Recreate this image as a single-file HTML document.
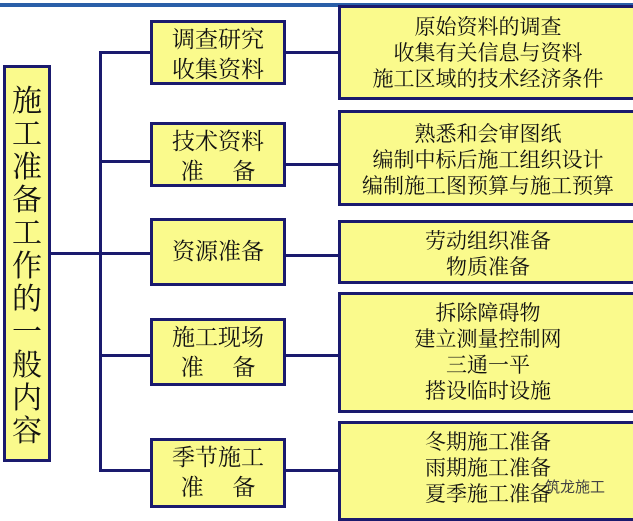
<!DOCTYPE html>
<html><head><meta charset="utf-8"><style>
body{margin:0;width:633px;height:513px;background:#fff;position:relative;overflow:hidden;font-family:"Liberation Serif","Noto Serif CJK SC",serif;color:#111}
.b{position:absolute;background:#fafa8c;border:3px solid #1a1a6e;box-sizing:border-box;text-align:center}
.l{position:absolute;background:#1a1a6e}
.m{font-size:23px;line-height:30px;padding-top:2px}
.r{font-size:21px;line-height:26px}
</style></head><body>
<div class="l" style="left:0;top:3px;width:633px;height:4px;background:#2a5fa8"></div>
<div class="b" style="left:3px;top:65px;width:48px;height:397px;font-size:30px;line-height:33px;padding-top:17px">施<br>工<br>准<br>备<br>工<br>作<br>的<br>一<br>般<br>内<br>容</div>
<div class="l" style="left:51px;top:252px;width:100px;height:3px"></div>
<div class="l" style="left:99px;top:51px;width:3px;height:420px"></div>
<div class="l" style="left:99px;top:51px;width:52px;height:3px"></div>
<div class="l" style="left:99px;top:160px;width:52px;height:3px"></div>
<div class="l" style="left:99px;top:354px;width:52px;height:3px"></div>
<div class="l" style="left:99px;top:469px;width:52px;height:3px"></div>
<div class="l" style="left:285px;top:51px;width:55px;height:3px"></div>
<div class="l" style="left:285px;top:163px;width:55px;height:3px"></div>
<div class="l" style="left:285px;top:254px;width:55px;height:3px"></div>
<div class="l" style="left:285px;top:354px;width:55px;height:3px"></div>
<div class="l" style="left:285px;top:469px;width:55px;height:3px"></div>
<div class="b m" style="left:150px;top:20px;width:136px;height:65px">调查研究<br>收集资料</div>
<div class="b m" style="left:150px;top:122px;width:136px;height:65px">技术资料<br>准&nbsp;&nbsp;&nbsp;&nbsp;&nbsp;备</div>
<div class="b m" style="left:150px;top:218px;width:136px;height:68px;line-height:62px;padding:0">资源准备</div>
<div class="b m" style="left:150px;top:318px;width:136px;height:68px">施工现场<br>准&nbsp;&nbsp;&nbsp;&nbsp;&nbsp;备</div>
<div class="b m" style="left:150px;top:438px;width:136px;height:70px">季节施工<br>准&nbsp;&nbsp;&nbsp;&nbsp;&nbsp;备</div>
<div class="b r" style="left:338px;top:5px;width:300px;height:95px;padding-top:6px">原始资料的调查<br>收集有关信息与资料<br>施工区域的技术经济条件</div>
<div class="b r" style="left:338px;top:110px;width:300px;height:96px;padding-top:8px">熟悉和会审图纸<br>编制中标后施工组织设计<br>编制施工图预算与施工预算</div>
<div class="b r" style="left:338px;top:220px;width:300px;height:64px;padding-top:5px">劳动组织准备<br>物质准备</div>
<div class="b r" style="left:338px;top:292px;width:300px;height:121px;padding-top:5px">拆除障碍物<br>建立测量控制网<br>三通一平<br>搭设临时设施</div>
<div class="b r" style="left:338px;top:421px;width:300px;height:100px;padding-top:5px">冬期施工准备<br>雨期施工准备<br>夏季施工准备</div>
<div style="position:absolute;left:545px;top:476px;font-size:15px;color:#444;font-family:'Liberation Sans','Noto Sans CJK SC',sans-serif">筑龙施工</div>
</body></html>
